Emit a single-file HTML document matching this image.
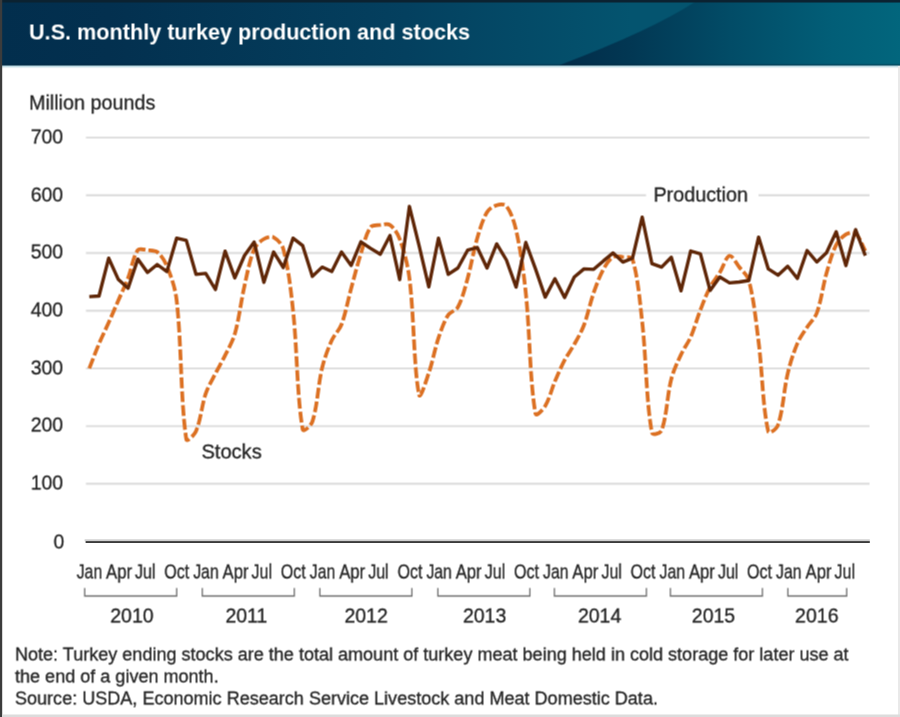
<!DOCTYPE html>
<html><head><meta charset="utf-8"><title>U.S. monthly turkey production and stocks</title>
<style>
html,body{margin:0;padding:0;background:#fff;}
body{width:900px;height:717px;overflow:hidden;font-family:"Liberation Sans",sans-serif;}
svg{display:block;will-change:transform;}
svg text{font-family:"Liberation Sans",sans-serif;}
svg text.r{stroke:#262626;stroke-width:0.3px;}
</style></head><body>
<svg width="900" height="717" viewBox="0 0 900 717">
<defs>
<linearGradient id="hg" x1="0" x2="900" y1="0" y2="0" gradientUnits="userSpaceOnUse">
<stop offset="0" stop-color="#022e4d"/><stop offset="0.12" stop-color="#03304f"/><stop offset="0.45" stop-color="#04405f"/><stop offset="0.7" stop-color="#04546f"/><stop offset="1" stop-color="#04546f"/>
</linearGradient>
<linearGradient id="sw" x1="560" x2="900" y1="0" y2="0" gradientUnits="userSpaceOnUse">
<stop offset="0" stop-color="#022c49"/><stop offset="0.2" stop-color="#023753"/><stop offset="0.5" stop-color="#024c67"/><stop offset="0.8" stop-color="#025e77"/><stop offset="1" stop-color="#02667d"/>
</linearGradient>
<linearGradient id="fd" x1="0" x2="0" y1="0" y2="1"><stop offset="0" stop-color="#9fcbd8"/><stop offset="1" stop-color="#ffffff"/></linearGradient>
<g id="pic">
<rect x="-2" y="-2" width="904" height="721" fill="#fff"/>
<rect x="-2" y="-2" width="904" height="67.6" fill="url(#hg)"/>
<path d="M560,65 Q651.7,30.2 695,2 L902,2 L902,65.6 L560,65.6 Z" fill="url(#sw)"/>
<rect x="-2" y="64.3" width="904" height="1.3" fill="#0b2c40" opacity="0.55"/>
<rect x="-2" y="65.6" width="904" height="2.6" fill="url(#fd)"/>
<text x="29" y="39.6" textLength="441" lengthAdjust="spacingAndGlyphs" font-size="22" font-weight="bold" fill="#fff">U.S. monthly turkey production and stocks</text>
<text x="29" y="109.3" textLength="126.3" lengthAdjust="spacingAndGlyphs" font-size="20.2" fill="#262626" class="r">Million pounds</text>
<line x1="86" x2="869.5" y1="137.6" y2="137.6" stroke="#dcdcdc" stroke-width="1.9"/>
<line x1="86" x2="869.5" y1="195.3" y2="195.3" stroke="#dcdcdc" stroke-width="1.9"/>
<line x1="86" x2="869.5" y1="253.0" y2="253.0" stroke="#dcdcdc" stroke-width="1.9"/>
<line x1="86" x2="869.5" y1="310.7" y2="310.7" stroke="#dcdcdc" stroke-width="1.9"/>
<line x1="86" x2="869.5" y1="368.4" y2="368.4" stroke="#dcdcdc" stroke-width="1.9"/>
<line x1="86" x2="869.5" y1="426.1" y2="426.1" stroke="#dcdcdc" stroke-width="1.9"/>
<line x1="86" x2="869.5" y1="483.8" y2="483.8" stroke="#dcdcdc" stroke-width="1.9"/>

<rect x="646" y="180" width="112.5" height="30" fill="#fff"/>
<text x="30.7" y="143.3" textLength="32.5" lengthAdjust="spacingAndGlyphs" font-size="20.3" fill="#262626" class="r">700</text>
<text x="30.7" y="201.0" textLength="32.5" lengthAdjust="spacingAndGlyphs" font-size="20.3" fill="#262626" class="r">600</text>
<text x="30.7" y="258.7" textLength="32.5" lengthAdjust="spacingAndGlyphs" font-size="20.3" fill="#262626" class="r">500</text>
<text x="30.7" y="316.4" textLength="32.5" lengthAdjust="spacingAndGlyphs" font-size="20.3" fill="#262626" class="r">400</text>
<text x="30.7" y="374.1" textLength="32.5" lengthAdjust="spacingAndGlyphs" font-size="20.3" fill="#262626" class="r">300</text>
<text x="30.7" y="431.8" textLength="32.5" lengthAdjust="spacingAndGlyphs" font-size="20.3" fill="#262626" class="r">200</text>
<text x="30.7" y="489.5" textLength="32.5" lengthAdjust="spacingAndGlyphs" font-size="20.3" fill="#262626" class="r">100</text>
<text x="53.6" y="548.1" textLength="10.8" lengthAdjust="spacingAndGlyphs" font-size="20.3" fill="#262626" class="r">0</text>

<path d="M89.3,368.4 C92.5,360.2 95.6,351.9 99.0,343.8 C102.0,336.6 105.5,329.7 108.7,322.6 C112.0,315.2 115.2,307.7 118.4,300.3 C121.6,292.9 125.2,285.6 128.1,278.0 C131.6,268.8 132.9,257.1 137.8,250.1 C139.4,247.8 144.3,249.9 147.5,250.2 C150.8,250.5 154.8,250.1 157.2,252.0 C161.3,255.3 164.8,260.8 166.9,266.0 C171.3,276.8 175.3,288.3 176.6,300.0 C181.8,346.1 180.4,399.2 186.3,439.3 C186.8,442.9 194.4,434.9 196.0,431.2 C200.9,419.7 201.6,405.9 205.7,393.7 C208.1,386.7 212.0,380.2 215.4,373.6 C218.5,367.5 222.1,361.6 225.1,355.4 C228.5,348.4 232.7,341.5 234.8,334.0 C239.2,318.3 240.9,301.8 244.5,285.8 C247.3,273.4 249.5,260.4 254.2,249.0 C255.9,244.8 260.1,241.3 263.9,239.0 C266.6,237.4 271.1,236.0 273.6,237.3 C277.5,239.3 282.0,244.2 283.3,249.0 C288.5,268.4 290.8,289.5 293.0,310.0 C297.3,349.7 296.8,395.7 302.7,429.4 C303.3,432.9 311.2,425.4 312.4,421.6 C317.7,404.9 317.9,385.6 322.1,368.0 C324.4,358.5 327.8,349.2 331.8,340.3 C334.3,334.7 339.4,330.2 341.5,324.5 C345.8,312.9 347.9,300.3 351.2,288.2 C354.4,276.6 357.3,265.0 360.9,253.6 C363.7,244.7 365.8,234.2 370.6,227.2 C372.3,224.7 377.0,225.4 380.3,225.0 C383.5,224.6 387.7,223.3 390.0,225.0 C394.1,228.0 397.8,233.7 399.7,239.0 C404.2,251.4 407.7,264.7 409.4,278.0 C414.2,316.7 413.7,368.5 419.1,394.8 C420.2,400.2 426.2,380.5 428.8,373.0 C432.7,361.5 434.7,349.4 438.5,337.9 C441.1,330.1 443.9,321.8 448.2,315.0 C450.4,311.6 456.0,310.7 457.9,307.1 C462.5,298.5 464.9,288.2 467.6,278.5 C471.3,265.1 473.4,251.3 477.3,238.0 C479.9,229.2 482.5,219.9 487.0,212.3 C489.0,209.0 493.1,206.3 496.7,205.2 C499.6,204.3 504.6,203.8 506.4,206.1 C511.1,212.2 514.2,221.8 516.1,230.2 C520.7,250.8 523.6,271.9 525.8,293.0 C530.0,333.1 529.6,379.6 535.5,413.8 C536.1,417.3 543.1,409.5 545.2,406.0 C549.6,398.7 551.5,389.5 554.9,381.4 C557.9,374.2 561.0,367.1 564.6,360.2 C567.5,354.7 571.3,349.7 574.3,344.3 C577.8,338.0 581.5,331.7 584.0,325.0 C587.9,314.5 590.0,303.3 593.7,292.7 C596.5,284.7 599.4,276.6 603.4,269.2 C605.9,264.7 609.1,259.5 613.1,257.0 C615.6,255.4 619.6,256.6 622.8,257.0 C626.1,257.4 631.6,256.3 632.5,259.2 C638.1,277.9 639.8,301.0 642.2,322.0 C646.3,358.8 646.0,399.5 651.9,432.7 C652.4,435.7 660.6,433.4 661.6,430.5 C667.0,415.5 667.0,395.9 671.3,379.0 C673.5,370.6 677.3,362.5 681.0,354.6 C683.8,348.5 688.0,343.1 690.7,337.0 C694.5,328.3 696.9,318.9 700.4,310.0 C703.4,302.3 706.3,294.4 710.1,287.1 C712.8,282.0 716.7,277.5 719.8,272.6 C723.2,267.1 725.8,256.9 729.5,255.8 C732.3,255.0 736.1,263.1 739.2,267.0 C742.6,271.3 747.5,275.2 748.9,280.4 C754.0,300.2 756.0,321.4 758.6,342.0 C762.4,371.8 762.6,407.1 768.3,431.6 C769.0,434.8 776.8,428.5 778.0,425.0 C783.3,409.2 783.7,390.5 787.7,373.6 C790.1,363.3 793.3,353.1 797.4,343.4 C799.8,337.6 803.7,332.5 807.1,327.2 C810.2,322.4 814.9,318.3 816.8,313.0 C821.4,300.4 822.8,286.4 826.5,273.3 C829.2,263.7 831.8,253.7 836.2,244.9 C838.3,240.7 842.1,236.7 845.9,234.4 C848.5,232.9 853.5,231.7 855.6,233.5 C859.9,237.2 862.1,245.2 865.3,251.0" fill="none" stroke="#dc7022" stroke-width="3.7" stroke-dasharray="10.8 3.1" stroke-linejoin="round"/>
<path d="M89.3,296.6 L99.0,296.0 L108.7,258.2 L118.4,279.6 L128.1,288.2 L137.8,259.1 L147.5,272.5 L157.2,264.5 L166.9,271.6 L176.6,238.2 L186.3,240.4 L196.0,274.3 L205.7,273.4 L215.4,289.5 L225.1,251.1 L234.8,277.9 L244.5,255.5 L254.2,242.1 L263.9,282.3 L273.6,252.0 L283.3,267.5 L293.0,238.2 L302.7,245.7 L312.4,276.4 L322.1,267.1 L331.8,271.6 L341.5,252.0 L351.2,265.4 L360.9,241.8 L370.6,248.4 L380.3,254.2 L390.0,235.6 L399.7,279.6 L409.4,206.4 L419.1,245.7 L428.8,286.8 L438.5,238.2 L448.2,274.3 L457.9,268.0 L467.6,250.2 L477.3,247.5 L487.0,268.0 L496.7,243.9 L506.4,260.0 L516.1,287.1 L525.8,242.5 L535.5,268.9 L545.2,297.1 L554.9,278.8 L564.6,297.5 L574.3,277.0 L584.0,268.9 L593.7,269.3 L603.4,260.9 L613.1,252.9 L622.8,262.1 L632.5,258.2 L642.2,217.1 L651.9,263.6 L661.6,267.1 L671.3,257.3 L681.0,290.8 L690.7,251.0 L700.4,253.8 L710.1,290.4 L719.8,277.0 L729.5,282.9 L739.2,282.0 L748.9,280.5 L758.6,237.1 L768.3,268.9 L778.0,275.2 L787.7,266.3 L797.4,278.5 L807.1,250.5 L816.8,262.0 L826.5,252.7 L836.2,231.8 L845.9,265.6 L855.6,229.6 L865.3,255.6" fill="none" stroke="#5f2607" stroke-width="3.35" stroke-linejoin="round" stroke-linecap="butt"/>
<text x="653.4" y="201.5" font-size="19.8" fill="#262626" class="r">Production</text>
<text x="201.4" y="458.6" font-size="20.1" fill="#262626" class="r">Stocks</text>
<text x="76.7" y="578.5" textLength="25.5" lengthAdjust="spacingAndGlyphs" font-size="20.4" fill="#262626" class="r">Jan</text>
<text x="106.0" y="578.5" textLength="26" lengthAdjust="spacingAndGlyphs" font-size="20.4" fill="#262626" class="r">Apr</text>
<text x="135.1" y="578.5" textLength="20.5" lengthAdjust="spacingAndGlyphs" font-size="20.4" fill="#262626" class="r">Jul</text>
<text x="164.2" y="578.5" textLength="25" lengthAdjust="spacingAndGlyphs" font-size="20.4" fill="#262626" class="r">Oct</text>
<text x="193.2" y="578.5" textLength="25.5" lengthAdjust="spacingAndGlyphs" font-size="20.4" fill="#262626" class="r">Jan</text>
<text x="222.6" y="578.5" textLength="26" lengthAdjust="spacingAndGlyphs" font-size="20.4" fill="#262626" class="r">Apr</text>
<text x="251.6" y="578.5" textLength="20.5" lengthAdjust="spacingAndGlyphs" font-size="20.4" fill="#262626" class="r">Jul</text>
<text x="280.8" y="578.5" textLength="25" lengthAdjust="spacingAndGlyphs" font-size="20.4" fill="#262626" class="r">Oct</text>
<text x="309.8" y="578.5" textLength="25.5" lengthAdjust="spacingAndGlyphs" font-size="20.4" fill="#262626" class="r">Jan</text>
<text x="339.2" y="578.5" textLength="26" lengthAdjust="spacingAndGlyphs" font-size="20.4" fill="#262626" class="r">Apr</text>
<text x="368.2" y="578.5" textLength="20.5" lengthAdjust="spacingAndGlyphs" font-size="20.4" fill="#262626" class="r">Jul</text>
<text x="397.4" y="578.5" textLength="25" lengthAdjust="spacingAndGlyphs" font-size="20.4" fill="#262626" class="r">Oct</text>
<text x="426.4" y="578.5" textLength="25.5" lengthAdjust="spacingAndGlyphs" font-size="20.4" fill="#262626" class="r">Jan</text>
<text x="455.7" y="578.5" textLength="26" lengthAdjust="spacingAndGlyphs" font-size="20.4" fill="#262626" class="r">Apr</text>
<text x="484.8" y="578.5" textLength="20.5" lengthAdjust="spacingAndGlyphs" font-size="20.4" fill="#262626" class="r">Jul</text>
<text x="513.9" y="578.5" textLength="25" lengthAdjust="spacingAndGlyphs" font-size="20.4" fill="#262626" class="r">Oct</text>
<text x="543.0" y="578.5" textLength="25.5" lengthAdjust="spacingAndGlyphs" font-size="20.4" fill="#262626" class="r">Jan</text>
<text x="572.3" y="578.5" textLength="26" lengthAdjust="spacingAndGlyphs" font-size="20.4" fill="#262626" class="r">Apr</text>
<text x="601.4" y="578.5" textLength="20.5" lengthAdjust="spacingAndGlyphs" font-size="20.4" fill="#262626" class="r">Jul</text>
<text x="630.5" y="578.5" textLength="25" lengthAdjust="spacingAndGlyphs" font-size="20.4" fill="#262626" class="r">Oct</text>
<text x="659.5" y="578.5" textLength="25.5" lengthAdjust="spacingAndGlyphs" font-size="20.4" fill="#262626" class="r">Jan</text>
<text x="688.9" y="578.5" textLength="26" lengthAdjust="spacingAndGlyphs" font-size="20.4" fill="#262626" class="r">Apr</text>
<text x="717.9" y="578.5" textLength="20.5" lengthAdjust="spacingAndGlyphs" font-size="20.4" fill="#262626" class="r">Jul</text>
<text x="747.1" y="578.5" textLength="25" lengthAdjust="spacingAndGlyphs" font-size="20.4" fill="#262626" class="r">Oct</text>
<text x="776.1" y="578.5" textLength="25.5" lengthAdjust="spacingAndGlyphs" font-size="20.4" fill="#262626" class="r">Jan</text>
<text x="805.5" y="578.5" textLength="26" lengthAdjust="spacingAndGlyphs" font-size="20.4" fill="#262626" class="r">Apr</text>
<text x="834.5" y="578.5" textLength="20.5" lengthAdjust="spacingAndGlyphs" font-size="20.4" fill="#262626" class="r">Jul</text>

<path d="M84.7,588 V596 H176.7 V588" fill="none" stroke="#707070" stroke-width="1.3"/>
<path d="M202.3,588 V596 H294.3 V588" fill="none" stroke="#707070" stroke-width="1.3"/>
<path d="M319.9,588 V596 H411.9 V588" fill="none" stroke="#707070" stroke-width="1.3"/>
<path d="M437.9,588 V596 H529.9 V588" fill="none" stroke="#707070" stroke-width="1.3"/>
<path d="M554.4,588 V596 H646.4 V588" fill="none" stroke="#707070" stroke-width="1.3"/>
<path d="M670.4,588 V596 H762.4 V588" fill="none" stroke="#707070" stroke-width="1.3"/>
<path d="M787.9,588 V596 H846.7 V588" fill="none" stroke="#707070" stroke-width="1.3"/>

<text x="131.9" y="622" text-anchor="middle" font-size="19.5" fill="#262626" class="r">2010</text>
<text x="246.4" y="622" text-anchor="middle" font-size="19.5" fill="#262626" class="r">2011</text>
<text x="366.1" y="622" text-anchor="middle" font-size="19.5" fill="#262626" class="r">2012</text>
<text x="484.6" y="622" text-anchor="middle" font-size="19.5" fill="#262626" class="r">2013</text>
<text x="599.6" y="622" text-anchor="middle" font-size="19.5" fill="#262626" class="r">2014</text>
<text x="713.5" y="622" text-anchor="middle" font-size="19.5" fill="#262626" class="r">2015</text>
<text x="816.8" y="622" text-anchor="middle" font-size="19.5" fill="#262626" class="r">2016</text>

<text x="15" y="660.7" font-size="18.06" fill="#262626" class="r">Note: Turkey ending stocks are the total amount of turkey meat being held in cold storage for later use at</text>
<text x="15" y="682.4" font-size="18.06" fill="#262626" class="r">the end of a given month.</text>
<text x="15" y="704.1" font-size="18.06" fill="#262626" class="r">Source: USDA, Economic Research Service Livestock and Meat Domestic Data.</text>
</g>
</defs>
<use href="#pic" transform="translate(-0.5,-0.5)"/>
<use href="#pic" transform="translate(0.5,-0.5)" opacity="0.5"/>
<use href="#pic" transform="translate(-0.5,0.5)" opacity="0.3333"/>
<use href="#pic" transform="translate(0.5,0.5)" opacity="0.25"/>
<rect x="84.6" y="539.3" width="785.2" height="1.9" fill="#cfcfcf"/>
<rect x="85.6" y="541.1" width="784.2" height="1.9" fill="#3a3a3a"/>
<rect x="0" y="0" width="900" height="2.5" fill="#0b2231"/>
<rect x="0" y="0" width="2.2" height="717" fill="#3c3c3c"/>
<rect x="898" y="66" width="2" height="651" fill="#e9e9e9"/>
<rect x="2.5" y="714.5" width="897.5" height="2.5" fill="#dcdcdc"/>
</svg>
</body></html>
